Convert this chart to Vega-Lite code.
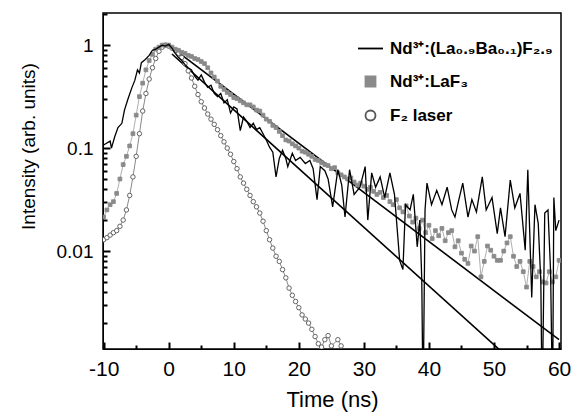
{
  "$schema": "https://vega.github.io/schema/vega-lite/v6.json",
  "width": 458,
  "height": 336,
  "autosize": {"type": "none"},
  "padding": {"left": 103, "top": 13, "right": 14, "bottom": 65},
  "background": "white",
  "config": {
    "view": {"stroke": "black", "strokeWidth": 1.5},
    "axis": {"grid": false, "domainColor": "black", "tickColor": "black", "tickWidth": 2, "labelColor": "black", "labelFont": "Liberation Sans", "labelFontSize": 19, "titleFont": "Liberation Sans", "titleFontSize": 19, "titleFontWeight": "normal", "titleColor": "black"}
  },
  "data": {
    "values": [
      {"s": "U", "t": 0, "v": 1.0}, {"s": "U", "t": 60, "v": 0.00138},
      {"s": "L", "t": 0.5, "v": 0.82}, {"s": "L", "t": 51, "v": 0.00108},

      {"s": "C", "t": -10, "v": 0.0129}, {"s": "C", "t": -9.5, "v": 0.0135}, {"s": "C", "t": -9, "v": 0.0143}, {"s": "C", "t": -8.5, "v": 0.0151},
      {"s": "C", "t": -8, "v": 0.0158}, {"s": "C", "t": -7.5, "v": 0.0174}, {"s": "C", "t": -7, "v": 0.02}, {"s": "C", "t": -6.5, "v": 0.0251},
      {"s": "C", "t": -6, "v": 0.0347}, {"s": "C", "t": -5.5, "v": 0.0525}, {"s": "C", "t": -5, "v": 0.0832}, {"s": "C", "t": -4.5, "v": 0.138},
      {"s": "C", "t": -4, "v": 0.229}, {"s": "C", "t": -3.5, "v": 0.339}, {"s": "C", "t": -3, "v": 0.468}, {"s": "C", "t": -2.5, "v": 0.603},
      {"s": "C", "t": -2, "v": 0.741}, {"s": "C", "t": -1.5, "v": 0.871}, {"s": "C", "t": -1, "v": 0.955}, {"s": "C", "t": -0.5, "v": 1.0},
      {"s": "C", "t": 0, "v": 0.977}, {"s": "C", "t": 0.5, "v": 0.933}, {"s": "C", "t": 1, "v": 0.891}, {"s": "C", "t": 1.5, "v": 0.832},
      {"s": "C", "t": 2, "v": 0.759}, {"s": "C", "t": 2.5, "v": 0.661}, {"s": "C", "t": 3, "v": 0.562}, {"s": "C", "t": 3.5, "v": 0.479},
      {"s": "C", "t": 4, "v": 0.398}, {"s": "C", "t": 4.5, "v": 0.331}, {"s": "C", "t": 5, "v": 0.282}, {"s": "C", "t": 5.5, "v": 0.245},
      {"s": "C", "t": 6, "v": 0.214}, {"s": "C", "t": 6.5, "v": 0.191}, {"s": "C", "t": 7, "v": 0.17}, {"s": "C", "t": 7.5, "v": 0.151},
      {"s": "C", "t": 8, "v": 0.132}, {"s": "C", "t": 8.5, "v": 0.115}, {"s": "C", "t": 9, "v": 0.1}, {"s": "C", "t": 9.5, "v": 0.0871},
      {"s": "C", "t": 10, "v": 0.0741}, {"s": "C", "t": 10.5, "v": 0.0631}, {"s": "C", "t": 11, "v": 0.0525}, {"s": "C", "t": 11.5, "v": 0.0457},
      {"s": "C", "t": 12, "v": 0.0398}, {"s": "C", "t": 12.5, "v": 0.0347}, {"s": "C", "t": 13, "v": 0.0302}, {"s": "C", "t": 13.5, "v": 0.0269},
      {"s": "C", "t": 14, "v": 0.0234}, {"s": "C", "t": 14.5, "v": 0.0195}, {"s": "C", "t": 15, "v": 0.0158}, {"s": "C", "t": 15.5, "v": 0.0129},
      {"s": "C", "t": 16, "v": 0.0107}, {"s": "C", "t": 16.5, "v": 0.00891}, {"s": "C", "t": 17, "v": 0.00794}, {"s": "C", "t": 17.5, "v": 0.00661},
      {"s": "C", "t": 18, "v": 0.0055}, {"s": "C", "t": 18.5, "v": 0.00437}, {"s": "C", "t": 19, "v": 0.00372}, {"s": "C", "t": 19.5, "v": 0.00324},
      {"s": "C", "t": 20, "v": 0.00282}, {"s": "C", "t": 20.5, "v": 0.0024}, {"s": "C", "t": 21, "v": 0.00219}, {"s": "C", "t": 21.5, "v": 0.002},
      {"s": "C", "t": 22, "v": 0.00174}, {"s": "C", "t": 22.5, "v": 0.00148}, {"s": "C", "t": 23, "v": 0.00126}, {"s": "C", "t": 23.5, "v": 0.00117},
      {"s": "C", "t": 24, "v": 0.00138}, {"s": "C", "t": 24.5, "v": 0.00151}, {"s": "C", "t": 25, "v": 0.0012}, {"s": "C", "t": 26, "v": 0.00138},
      {"s": "C", "t": 26.5, "v": 0.0012},

      {"s": "B", "t": -10, "v": 0.0214}, {"s": "B", "t": -9.5, "v": 0.0251}, {"s": "B", "t": -9, "v": 0.0282}, {"s": "B", "t": -8.5, "v": 0.0302},
      {"s": "B", "t": -8, "v": 0.0363}, {"s": "B", "t": -7.5, "v": 0.0501}, {"s": "B", "t": -7, "v": 0.0692}, {"s": "B", "t": -6.5, "v": 0.0832},
      {"s": "B", "t": -6, "v": 0.105}, {"s": "B", "t": -5.5, "v": 0.138}, {"s": "B", "t": -5, "v": 0.209}, {"s": "B", "t": -4.5, "v": 0.316},
      {"s": "B", "t": -4, "v": 0.427}, {"s": "B", "t": -3.5, "v": 0.575}, {"s": "B", "t": -3, "v": 0.708}, {"s": "B", "t": -2.5, "v": 0.813},
      {"s": "B", "t": -2, "v": 0.912}, {"s": "B", "t": -1.5, "v": 0.955}, {"s": "B", "t": -1, "v": 1.0}, {"s": "B", "t": -0.5, "v": 1.0},
      {"s": "B", "t": 0, "v": 1.0}, {"s": "B", "t": 0.5, "v": 0.955}, {"s": "B", "t": 1, "v": 0.912}, {"s": "B", "t": 1.5, "v": 0.891},
      {"s": "B", "t": 2, "v": 0.851}, {"s": "B", "t": 2.5, "v": 0.832}, {"s": "B", "t": 3, "v": 0.794}, {"s": "B", "t": 3.5, "v": 0.776},
      {"s": "B", "t": 4, "v": 0.741}, {"s": "B", "t": 4.5, "v": 0.724}, {"s": "B", "t": 5, "v": 0.692}, {"s": "B", "t": 5.5, "v": 0.661},
      {"s": "B", "t": 6, "v": 0.603}, {"s": "B", "t": 6.5, "v": 0.537}, {"s": "B", "t": 7, "v": 0.49}, {"s": "B", "t": 7.5, "v": 0.447},
      {"s": "B", "t": 8, "v": 0.398}, {"s": "B", "t": 8.5, "v": 0.372}, {"s": "B", "t": 9, "v": 0.347}, {"s": "B", "t": 9.5, "v": 0.331},
      {"s": "B", "t": 10, "v": 0.309}, {"s": "B", "t": 10.5, "v": 0.302}, {"s": "B", "t": 11, "v": 0.288}, {"s": "B", "t": 11.5, "v": 0.275},
      {"s": "B", "t": 12, "v": 0.263}, {"s": "B", "t": 12.5, "v": 0.263}, {"s": "B", "t": 13, "v": 0.251}, {"s": "B", "t": 13.5, "v": 0.234},
      {"s": "B", "t": 14, "v": 0.229}, {"s": "B", "t": 14.5, "v": 0.209}, {"s": "B", "t": 15, "v": 0.191}, {"s": "B", "t": 15.5, "v": 0.182},
      {"s": "B", "t": 16, "v": 0.166}, {"s": "B", "t": 16.5, "v": 0.158}, {"s": "B", "t": 17, "v": 0.145}, {"s": "B", "t": 17.5, "v": 0.132},
      {"s": "B", "t": 18, "v": 0.12}, {"s": "B", "t": 18.5, "v": 0.117}, {"s": "B", "t": 19, "v": 0.11}, {"s": "B", "t": 19.5, "v": 0.105},
      {"s": "B", "t": 20, "v": 0.1}, {"s": "B", "t": 20.5, "v": 0.0933}, {"s": "B", "t": 21, "v": 0.0912}, {"s": "B", "t": 21.5, "v": 0.0871},
      {"s": "B", "t": 22, "v": 0.0832}, {"s": "B", "t": 22.5, "v": 0.0776}, {"s": "B", "t": 23, "v": 0.0759}, {"s": "B", "t": 23.5, "v": 0.0724},
      {"s": "B", "t": 24, "v": 0.0692}, {"s": "B", "t": 24.5, "v": 0.0676}, {"s": "B", "t": 25, "v": 0.0631}, {"s": "B", "t": 25.5, "v": 0.0646},
      {"s": "B", "t": 26, "v": 0.0575}, {"s": "B", "t": 26.5, "v": 0.055}, {"s": "B", "t": 27, "v": 0.0525}, {"s": "B", "t": 27.5, "v": 0.0501},
      {"s": "B", "t": 28, "v": 0.0513}, {"s": "B", "t": 28.5, "v": 0.0468}, {"s": "B", "t": 29, "v": 0.0437}, {"s": "B", "t": 29.5, "v": 0.0457},
      {"s": "B", "t": 30, "v": 0.0427}, {"s": "B", "t": 30.5, "v": 0.0398}, {"s": "B", "t": 31, "v": 0.0417}, {"s": "B", "t": 31.5, "v": 0.038},
      {"s": "B", "t": 32, "v": 0.0355}, {"s": "B", "t": 32.5, "v": 0.0372}, {"s": "B", "t": 33, "v": 0.0331}, {"s": "B", "t": 33.5, "v": 0.0347},
      {"s": "B", "t": 34, "v": 0.0302}, {"s": "B", "t": 34.5, "v": 0.0282}, {"s": "B", "t": 35, "v": 0.0316}, {"s": "B", "t": 35.5, "v": 0.0263},
      {"s": "B", "t": 36, "v": 0.024}, {"s": "B", "t": 36.5, "v": 0.0275}, {"s": "B", "t": 37, "v": 0.0219}, {"s": "B", "t": 37.5, "v": 0.0191},
      {"s": "B", "t": 38, "v": 0.0209}, {"s": "B", "t": 38.5, "v": 0.0166}, {"s": "B", "t": 39, "v": 0.02}, {"s": "B", "t": 39.5, "v": 0.0151},
      {"s": "B", "t": 40, "v": 0.0178}, {"s": "B", "t": 40.5, "v": 0.0132}, {"s": "B", "t": 41, "v": 0.0158}, {"s": "B", "t": 41.5, "v": 0.0141},
      {"s": "B", "t": 42, "v": 0.0166}, {"s": "B", "t": 42.5, "v": 0.0126}, {"s": "B", "t": 43, "v": 0.0151}, {"s": "B", "t": 43.5, "v": 0.0158},
      {"s": "B", "t": 44, "v": 0.011}, {"s": "B", "t": 44.5, "v": 0.0126}, {"s": "B", "t": 45, "v": 0.00955}, {"s": "B", "t": 45.5, "v": 0.00832},
      {"s": "B", "t": 46, "v": 0.00759}, {"s": "B", "t": 46.5, "v": 0.0112}, {"s": "B", "t": 47, "v": 0.01}, {"s": "B", "t": 47.5, "v": 0.0138},
      {"s": "B", "t": 48, "v": 0.00562}, {"s": "B", "t": 48.5, "v": 0.00794}, {"s": "B", "t": 49, "v": 0.0112}, {"s": "B", "t": 49.5, "v": 0.0102},
      {"s": "B", "t": 50, "v": 0.00891}, {"s": "B", "t": 50.5, "v": 0.00813}, {"s": "B", "t": 51, "v": 0.00813}, {"s": "B", "t": 51.5, "v": 0.01},
      {"s": "B", "t": 52, "v": 0.012}, {"s": "B", "t": 52.5, "v": 0.0138}, {"s": "B", "t": 53, "v": 0.00891}, {"s": "B", "t": 53.5, "v": 0.00708},
      {"s": "B", "t": 54, "v": 0.00794}, {"s": "B", "t": 54.5, "v": 0.00631}, {"s": "B", "t": 55, "v": 0.00447}, {"s": "B", "t": 55.5, "v": 0.00794},
      {"s": "B", "t": 56, "v": 0.00708}, {"s": "B", "t": 56.5, "v": 0.00562}, {"s": "B", "t": 57, "v": 0.00631}, {"s": "B", "t": 57.5, "v": 0.00501},
      {"s": "B", "t": 58, "v": 0.0049}, {"s": "B", "t": 58.5, "v": 0.00631}, {"s": "B", "t": 59, "v": 0.00501}, {"s": "B", "t": 59.5, "v": 0.00562},
      {"s": "B", "t": 60, "v": 0.00813},

      {"s": "A", "t": -10, "v": 0.107}, {"s": "A", "t": -9.5, "v": 0.112}, {"s": "A", "t": -9, "v": 0.117}, {"s": "A", "t": -8.8, "v": 0.1},
      {"s": "A", "t": -8.3, "v": 0.129}, {"s": "A", "t": -7.8, "v": 0.158}, {"s": "A", "t": -7.2, "v": 0.174}, {"s": "A", "t": -6.8, "v": 0.234},
      {"s": "A", "t": -6.3, "v": 0.295}, {"s": "A", "t": -5.7, "v": 0.38}, {"s": "A", "t": -5.2, "v": 0.457}, {"s": "A", "t": -4.8, "v": 0.575},
      {"s": "A", "t": -4.5, "v": 0.537}, {"s": "A", "t": -4.2, "v": 0.676}, {"s": "A", "t": -3.6, "v": 0.724}, {"s": "A", "t": -3, "v": 0.794},
      {"s": "A", "t": -2.5, "v": 0.891}, {"s": "A", "t": -2, "v": 0.912}, {"s": "A", "t": -1.5, "v": 0.955}, {"s": "A", "t": -1, "v": 1.0},
      {"s": "A", "t": -0.5, "v": 0.977}, {"s": "A", "t": 0, "v": 1.02}, {"s": "A", "t": 0.5, "v": 0.933}, {"s": "A", "t": 1, "v": 0.832},
      {"s": "A", "t": 1.5, "v": 0.759}, {"s": "A", "t": 2, "v": 0.708}, {"s": "A", "t": 2.5, "v": 0.646}, {"s": "A", "t": 3, "v": 0.603},
      {"s": "A", "t": 3.5, "v": 0.575}, {"s": "A", "t": 4, "v": 0.501}, {"s": "A", "t": 4.5, "v": 0.457}, {"s": "A", "t": 5, "v": 0.513},
      {"s": "A", "t": 5.5, "v": 0.437}, {"s": "A", "t": 6, "v": 0.389}, {"s": "A", "t": 6.5, "v": 0.407}, {"s": "A", "t": 7, "v": 0.339},
      {"s": "A", "t": 7.5, "v": 0.316}, {"s": "A", "t": 8, "v": 0.339}, {"s": "A", "t": 8.5, "v": 0.275}, {"s": "A", "t": 9, "v": 0.295},
      {"s": "A", "t": 9.5, "v": 0.219}, {"s": "A", "t": 10, "v": 0.251}, {"s": "A", "t": 10.5, "v": 0.24}, {"s": "A", "t": 11, "v": 0.148},
      {"s": "A", "t": 11.5, "v": 0.2}, {"s": "A", "t": 12, "v": 0.182}, {"s": "A", "t": 12.5, "v": 0.158}, {"s": "A", "t": 13, "v": 0.174},
      {"s": "A", "t": 13.5, "v": 0.151}, {"s": "A", "t": 14, "v": 0.158}, {"s": "A", "t": 14.5, "v": 0.138}, {"s": "A", "t": 15, "v": 0.12},
      {"s": "A", "t": 15.5, "v": 0.102}, {"s": "A", "t": 16, "v": 0.0912}, {"s": "A", "t": 16.5, "v": 0.0525}, {"s": "A", "t": 17, "v": 0.0794},
      {"s": "A", "t": 17.5, "v": 0.0955}, {"s": "A", "t": 18, "v": 0.0794}, {"s": "A", "t": 18.3, "v": 0.0661}, {"s": "A", "t": 19, "v": 0.0891},
      {"s": "A", "t": 19.5, "v": 0.0759}, {"s": "A", "t": 20.2, "v": 0.0813}, {"s": "A", "t": 21, "v": 0.0708}, {"s": "A", "t": 21.7, "v": 0.0759},
      {"s": "A", "t": 22.2, "v": 0.0631}, {"s": "A", "t": 22.8, "v": 0.0316}, {"s": "A", "t": 23.3, "v": 0.0661}, {"s": "A", "t": 24, "v": 0.0603},
      {"s": "A", "t": 24.5, "v": 0.0501}, {"s": "A", "t": 25.2, "v": 0.0269}, {"s": "A", "t": 26, "v": 0.0617}, {"s": "A", "t": 26.6, "v": 0.0437},
      {"s": "A", "t": 27.1, "v": 0.0214}, {"s": "A", "t": 27.8, "v": 0.0617}, {"s": "A", "t": 28.5, "v": 0.0355}, {"s": "A", "t": 29.4, "v": 0.0417},
      {"s": "A", "t": 30.2, "v": 0.0661}, {"s": "A", "t": 30.6, "v": 0.02}, {"s": "A", "t": 31.2, "v": 0.0575}, {"s": "A", "t": 31.8, "v": 0.0417},
      {"s": "A", "t": 32.5, "v": 0.0525}, {"s": "A", "t": 33.2, "v": 0.0331}, {"s": "A", "t": 34, "v": 0.0575}, {"s": "A", "t": 34.7, "v": 0.0355},
      {"s": "A", "t": 35.5, "v": 0.00813}, {"s": "A", "t": 36, "v": 0.00661}, {"s": "A", "t": 36.4, "v": 0.0282}, {"s": "A", "t": 37.1, "v": 0.0251},
      {"s": "A", "t": 37.6, "v": 0.0355}, {"s": "A", "t": 38.2, "v": 0.011}, {"s": "A", "t": 38.6, "v": 0.02}, {"s": "A", "t": 38.9, "v": 0.00525},
      {"s": "A", "t": 39.1, "v": 0.0003}, {"s": "A", "t": 39.4, "v": 0.0251}, {"s": "A", "t": 39.7, "v": 0.0457}, {"s": "A", "t": 40.4, "v": 0.0282},
      {"s": "A", "t": 41.2, "v": 0.0389}, {"s": "A", "t": 42, "v": 0.0282}, {"s": "A", "t": 42.8, "v": 0.0417}, {"s": "A", "t": 43.5, "v": 0.0251},
      {"s": "A", "t": 44, "v": 0.0214}, {"s": "A", "t": 44.6, "v": 0.0316}, {"s": "A", "t": 45.2, "v": 0.0457}, {"s": "A", "t": 46, "v": 0.0214},
      {"s": "A", "t": 46.6, "v": 0.0316}, {"s": "A", "t": 47.3, "v": 0.024}, {"s": "A", "t": 48.2, "v": 0.0525}, {"s": "A", "t": 48.8, "v": 0.0251},
      {"s": "A", "t": 49.7, "v": 0.0331}, {"s": "A", "t": 50.5, "v": 0.0148}, {"s": "A", "t": 51, "v": 0.0263}, {"s": "A", "t": 51.7, "v": 0.0138},
      {"s": "A", "t": 52.5, "v": 0.049}, {"s": "A", "t": 53.2, "v": 0.0263}, {"s": "A", "t": 54, "v": 0.0363}, {"s": "A", "t": 54.8, "v": 0.0102},
      {"s": "A", "t": 55.2, "v": 0.0617}, {"s": "A", "t": 55.8, "v": 0.00355}, {"s": "A", "t": 56.3, "v": 0.0282}, {"s": "A", "t": 56.8, "v": 0.0186},
      {"s": "A", "t": 57.2, "v": 0.00501}, {"s": "A", "t": 57.4, "v": 0.0003}, {"s": "A", "t": 57.8, "v": 0.0234}, {"s": "A", "t": 58.3, "v": 0.0251},
      {"s": "A", "t": 58.7, "v": 0.00631}, {"s": "A", "t": 59, "v": 0.0003}, {"s": "A", "t": 59.2, "v": 0.0331}, {"s": "A", "t": 59.5, "v": 0.0158},
      {"s": "A", "t": 60, "v": 0.02}
    ]
  },
  "resolve": {"axis": {"x": "independent", "y": "independent"}},
  "layer": [
    {
      "transform": [{"filter": "datum.s === 'U' || datum.s === 'L'"}],
      "mark": {"type": "line", "color": "black", "strokeWidth": 1.6, "clip": true},
      "encoding": {
        "x": {
          "field": "t", "type": "quantitative",
          "scale": {"domain": [-10.1, 60.3], "nice": false, "zero": false},
          "axis": {"orient": "bottom", "values": [-10, 0, 10, 20, 30, 40, 50, 60], "labelExpr": "'' + datum.value", "labelFlush": false, "tickSize": 0, "labelPadding": 9, "labelFontSize": 21, "title": "Time (ns)", "titleFontSize": 22, "titlePadding": 10}
        },
        "y": {
          "field": "v", "type": "quantitative",
          "scale": {"type": "log", "domain": [0.00112, 2.05], "nice": false},
          "axis": {"orient": "left", "values": [0.01, 0.1, 1], "format": "~g", "tickSize": 0, "labelPadding": 10, "title": "Intensity (arb. units)", "titleY": 133, "titleX": -65}
        },
        "detail": {"field": "s", "type": "nominal"}
      }
    },
    {
      "transform": [{"filter": "datum.s === 'C'"}],
      "mark": {"type": "line", "color": "#555555", "strokeWidth": 0.7, "clip": true},
      "encoding": {
        "x": {"field": "t", "type": "quantitative", "axis": null},
        "y": {"field": "v", "type": "quantitative", "axis": null}
      }
    },
    {
      "transform": [{"filter": "datum.s === 'B'"}],
      "mark": {"type": "line", "color": "#9a9a9a", "strokeWidth": 0.8, "clip": true},
      "encoding": {
        "x": {"field": "t", "type": "quantitative", "axis": null},
        "y": {"field": "v", "type": "quantitative", "axis": null}
      }
    },
    {
      "transform": [{"filter": "datum.s === 'B' || datum.s === 'C'"}],
      "mark": {"type": "point", "clip": true, "opacity": 1, "strokeWidth": 0.9},
      "encoding": {
        "x": {"field": "t", "type": "quantitative", "axis": null},
        "y": {"field": "v", "type": "quantitative", "axis": null},
        "shape": {
          "field": "s", "type": "nominal",
          "scale": {"domain": ["A", "B", "C"], "range": ["M-2.5,0H2.5", "square", "circle"]},
          "legend": {
            "title": null, "orient": "none", "legendX": 259, "legendY": 27, "padding": 0,
            "symbolSize": 100, "symbolStrokeWidth": 1.8, "rowPadding": 15, "labelOffset": 11, "labelLimit": 300,
            "labelFont": "Liberation Sans", "labelFontSize": 17, "labelFontWeight": "bold", "labelColor": "black",
            "labelExpr": "datum.value === 'A' ? 'Nd³⁺:(La₀.₉Ba₀.₁)F₂.₉' : datum.value === 'B' ? 'Nd³⁺:LaF₃' : 'F₂ laser'"
          }
        },
        "fill": {
          "field": "s", "type": "nominal",
          "scale": {"domain": ["A", "B", "C"], "range": ["black", "#8a8a8a", "white"]},
          "legend": {
            "title": null, "orient": "none", "legendX": 259, "legendY": 27, "padding": 0,
            "symbolSize": 100, "symbolStrokeWidth": 1.8, "rowPadding": 15, "labelOffset": 11, "labelLimit": 300,
            "labelFont": "Liberation Sans", "labelFontSize": 17, "labelFontWeight": "bold", "labelColor": "black",
            "labelExpr": "datum.value === 'A' ? 'Nd³⁺:(La₀.₉Ba₀.₁)F₂.₉' : datum.value === 'B' ? 'Nd³⁺:LaF₃' : 'F₂ laser'"
          }
        },
        "stroke": {
          "field": "s", "type": "nominal",
          "scale": {"domain": ["A", "B", "C"], "range": ["black", "#8a8a8a", "#555555"]},
          "legend": {
            "title": null, "orient": "none", "legendX": 259, "legendY": 27, "padding": 0,
            "symbolSize": 100, "symbolStrokeWidth": 1.8, "rowPadding": 15, "labelOffset": 11, "labelLimit": 300,
            "labelFont": "Liberation Sans", "labelFontSize": 17, "labelFontWeight": "bold", "labelColor": "black",
            "labelExpr": "datum.value === 'A' ? 'Nd³⁺:(La₀.₉Ba₀.₁)F₂.₉' : datum.value === 'B' ? 'Nd³⁺:LaF₃' : 'F₂ laser'"
          }
        },
        "size": {"condition": {"test": "datum.s === 'B'", "value": 14}, "value": 20}
      }
    },
    {
      "transform": [{"filter": "datum.s === 'A'"}],
      "mark": {"type": "line", "color": "black", "strokeWidth": 1.3, "clip": true},
      "encoding": {
        "x": {"field": "t", "type": "quantitative", "axis": null},
        "y": {"field": "v", "type": "quantitative", "axis": null}
      }
    },
    {
      "mark": {"type": "point", "opacity": 0},
      "encoding": {
        "x": {"field": "t", "type": "quantitative", "axis": {"orient": "top", "offset": -336, "values": [-10, 0, 10, 20, 30, 40, 50, 60], "labels": false, "domain": false, "tickSize": 7, "title": null}},
        "y": {"field": "v", "type": "quantitative", "axis": {"orient": "right", "offset": -458, "values": [0.01, 0.1, 1], "labels": false, "domain": false, "tickSize": 7, "title": null}}
      }
    },
    {
      "mark": {"type": "point", "opacity": 0},
      "encoding": {
        "x": {"field": "t", "type": "quantitative", "axis": {"orient": "top", "offset": -336, "values": [-5, 5, 15, 25, 35, 45, 55], "labels": false, "domain": false, "tickSize": 4, "title": null}},
        "y": {"field": "v", "type": "quantitative", "axis": {"orient": "right", "offset": -458, "values": [0.002, 0.003, 0.004, 0.005, 0.006, 0.007, 0.008, 0.009, 0.02, 0.03, 0.04, 0.05, 0.06, 0.07, 0.08, 0.09, 0.2, 0.3, 0.4, 0.5, 0.6, 0.7, 0.8, 0.9, 2], "labels": false, "domain": false, "tickSize": 4, "title": null}}
      }
    }
  ]
}
